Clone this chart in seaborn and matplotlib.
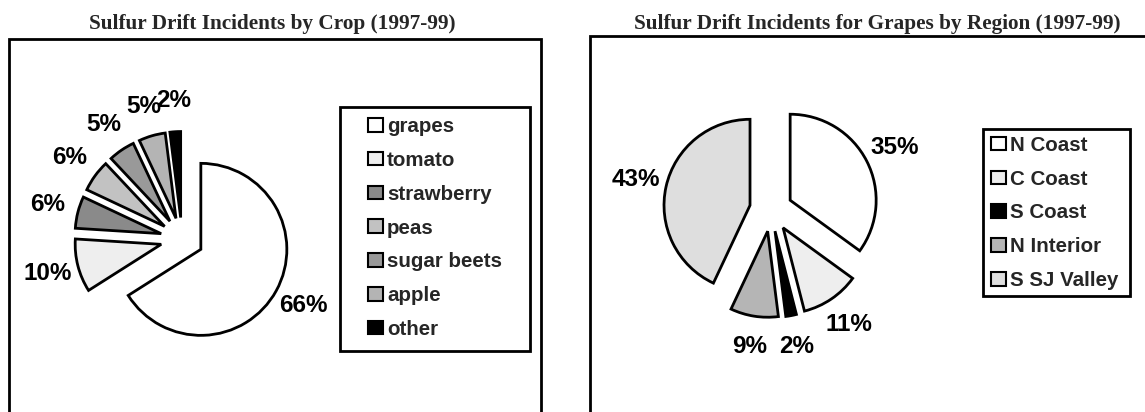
import matplotlib
matplotlib.use('Agg')
import matplotlib.pyplot as plt
import matplotlib.patches as mpatches
import seaborn as sns

# ---- data ----
crop_labels = ['grapes', 'tomato', 'strawberry', 'peas', 'sugar beets', 'apple', 'other']
crop_pct = [66, 10, 6, 6, 5, 5, 2]
crop_colors = ['#ffffff', '#eeeeee', '#8a8a8a', '#c2c2c2', '#999999', '#b4b4b4', '#000000']

region_labels = ['N Coast', 'C Coast', 'S Coast', 'N Interior', 'S SJ Valley']
region_pct = [35, 11, 2, 9, 43]
region_colors = ['#ffffff', '#eeeeee', '#000000', '#b5b5b5', '#dedede']

title_left = 'Sulfur Drift Incidents by Crop (1997-99)'
title_right = 'Sulfur Drift Incidents for Grapes by Region (1997-99)'

sns.set_theme(style='white')
plt.rcParams['font.family'] = ['Liberation Sans', 'DejaVu Sans']

W, H = 1145, 412
fig = plt.figure(figsize=(W / 100, H / 100), dpi=100)
fig.patch.set_facecolor('white')
ax = fig.add_axes([0, 0, 1, 1])


def fy(y):
    return H - y


# panel boxes
for (x0, y0, x1) in [(9, 39, 541), (590, 36, 1175)]:
    ax.add_patch(mpatches.Rectangle((x0, -10), x1 - x0, fy(y0) + 10, fill=False,
                                    lw=2.0, ec='black', zorder=1))

R = 86
EXP = 21.5
lblprops = dict(fontsize=17.5, fontweight='bold', color='black', family=['Liberation Sans'])
wprops = dict(edgecolor='black', linewidth=2.0)

ax.pie(crop_pct, colors=crop_colors, startangle=90, counterclock=False,
       explode=[EXP] * len(crop_pct), center=(182, fy(239)), radius=R,
       wedgeprops=wprops, autopct=lambda p: f'{p:.0f}%', pctdistance=1.36,
       textprops=lblprops, frame=True)

ax.pie(region_pct, colors=region_colors, startangle=90, counterclock=False,
       explode=[EXP] * len(region_pct), center=(771, fy(210)), radius=R,
       wedgeprops=wprops, autopct=lambda p: f'{p:.0f}%', pctdistance=1.36,
       textprops=lblprops, frame=True)

# legend frames
for (x0, y0, x1, y1) in [(340, 107, 530, 351), (983, 129, 1130, 296)]:
    ax.add_patch(mpatches.Rectangle((x0, fy(y1)), x1 - x0, y1 - y0, fill=True, fc='white',
                                    lw=2.0, ec='black', zorder=3))


def handles(labels, colors):
    return [mpatches.Patch(facecolor=c, edgecolor='black', linewidth=1.5, label=l)
            for l, c in zip(labels, colors)]


legprops = dict(weight='bold', size=14.8, family=['Liberation Sans'])
for labels, colors, (cx, cy) in [(crop_labels, crop_colors, (435, 228)),
                                 (region_labels, region_colors, (1055, 213))]:
    lg = fig.legend(handles=handles(labels, colors), loc='center',
                    bbox_to_anchor=(cx / W, 1 - cy / H), frameon=False, prop=legprops,
                    handlelength=0.74, handleheight=0.64, handletextpad=0.2,
                    labelspacing=0.72, borderpad=0, borderaxespad=0)
    lg.set_zorder(5)

fig.text(272 / W, 1 - 29 / H, title_left, ha='center', va='baseline', fontsize=15.3,
         fontweight='bold', family='Liberation Serif')
fig.text(877 / W, 1 - 29 / H, title_right, ha='center', va='baseline', fontsize=15.3,
         fontweight='bold', family='Liberation Serif')

ax.set_xlim(0, W)
ax.set_ylim(0, H)
ax.set_aspect('auto')
ax.axis('off')

fig.savefig('out.png', dpi=100)
